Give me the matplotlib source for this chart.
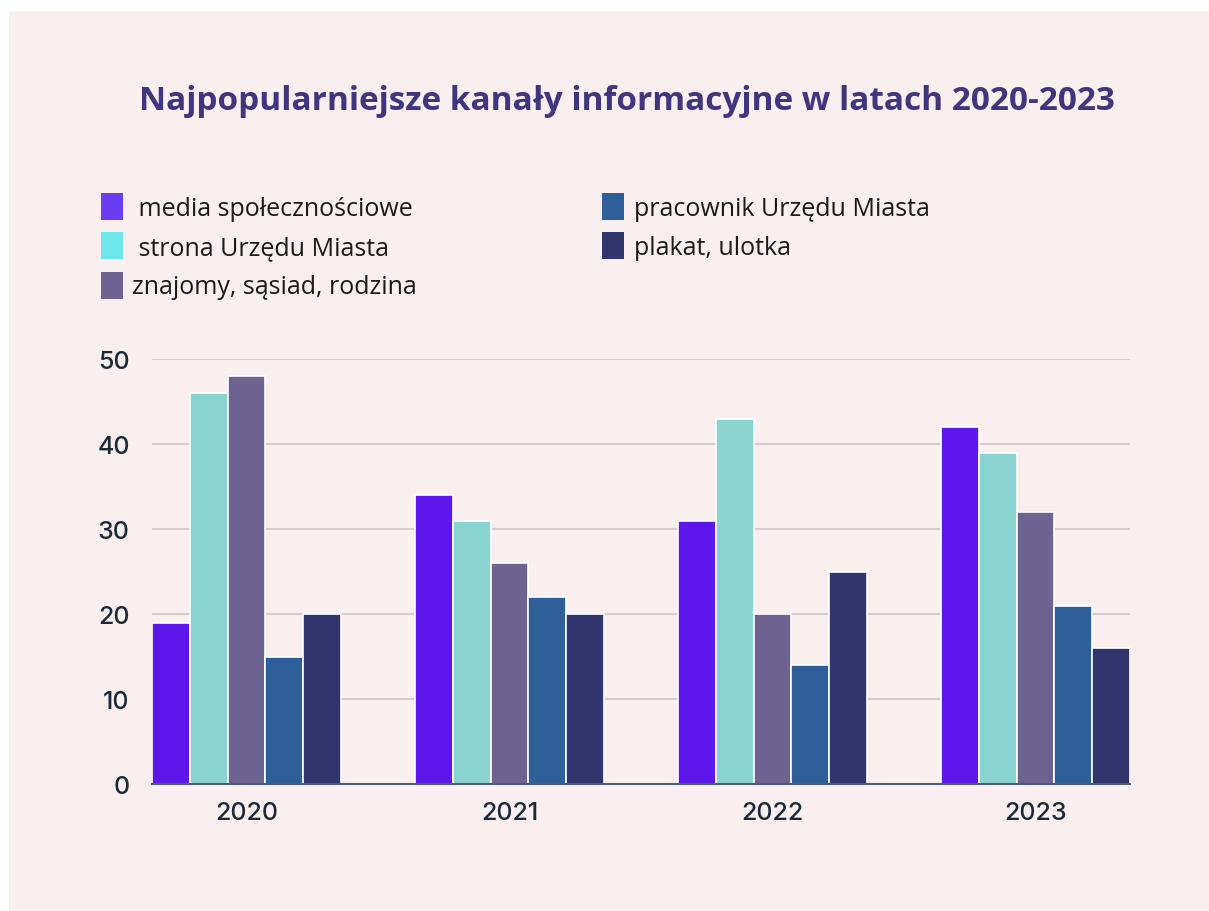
import numpy as np
import matplotlib.pyplot as plt
from matplotlib.patches import Rectangle, Patch

# dane
years = ['2020', '2021', '2022', '2023']
labels = [' media społecznościowe', ' strona Urzędu Miasta', 'znajomy, sąsiad, rodzina',
          'pracownik Urzędu Miasta', 'plakat, ulotka']
media = [19, 34, 31, 42]
strona = [46, 31, 43, 39]
znajomy = [48, 26, 20, 32]
pracownik = [15, 22, 14, 21]
plakat = [20, 20, 25, 16]

series = [media, strona, znajomy, pracownik, plakat]
bar_colors = ['#5E17EB', '#89D3D1', '#6E6291', '#2F5F98', '#31356E']
legend_colors = ['#6A3CF4', '#6EE6E9', '#6E6291', '#2F5F98', '#31356E']
bg = '#F8EFEE'

fig = plt.figure(figsize=(12.09, 9.12), dpi=100)
fig.patch.set_facecolor('white')
# tlo karty
fig.patches.append(Rectangle((9 / 1209, 0), 1, 1 - 12 / 912, transform=fig.transFigure,
                             facecolor=bg, edgecolor='none', zorder=-10))

ax = fig.add_axes([152 / 1209, 1 - 785 / 912, (1130 - 152) / 1209, (785 - 360) / 912])
ax.set_facecolor(bg)

x = np.arange(len(years))
bar_width = 0.1437
offsets = [-2, -1, 0, 1, 2]
for i, vals in enumerate(series):
    ax.bar(x + offsets[i] * bar_width, vals, bar_width, color=bar_colors[i],
           edgecolor='white', linewidth=1.2, zorder=3)

ax.set_xlim(-2.5 * bar_width, 3 + 2.5 * bar_width)
ax.set_ylim(0, 50)
ax.set_yticks([0, 10, 20, 30, 40, 50])
ax.set_xticks(x)
ax.set_xticklabels(years)
ax.grid(axis='y', color='#D3CFD0', linewidth=1.5, zorder=0)
ax.set_axisbelow(True)
for s in ['top', 'right', 'left']:
    ax.spines[s].set_visible(False)
ax.spines['bottom'].set_color('#4E5D6C')
ax.spines['bottom'].set_linewidth(1.5)
ax.spines['bottom'].set_zorder(4)
ax.tick_params(axis='both', length=0, labelsize=18, labelcolor='#1B2A38')
ax.tick_params(axis='y', pad=16)
ax.tick_params(axis='x', pad=12)
for t in ax.get_xticklabels() + ax.get_yticklabels():
    t.set_fontfamily(['Inter', 'DejaVu Sans'])
    t.set_fontweight('medium')

fig.text(627 / 1209, 1 - 102 / 912, 'Najpopularniejsze kanały informacyjne w latach 2020-2023',
         ha='center', va='center', fontsize=24, fontweight='bold', fontstretch='normal',
         color='#41357F', family=['Open Sans', 'DejaVu Sans'])

handles = [Patch(facecolor=c, edgecolor='none') for c in legend_colors]
leg = fig.legend(handles, labels, loc='upper left', bbox_to_anchor=(78 / 1209, 1 - 171 / 912),
                 ncol=2, frameon=False, handlelength=0.88, handleheight=1.3, handletextpad=0.4,
                 columnspacing=7.4, labelspacing=0.46,
                 prop={'family': ['Open Sans', 'DejaVu Sans'], 'size': 18})
for t in leg.get_texts():
    t.set_color('#1A1A1A')

plt.savefig('out.png', dpi=100, facecolor=fig.get_facecolor())
plt.close()
